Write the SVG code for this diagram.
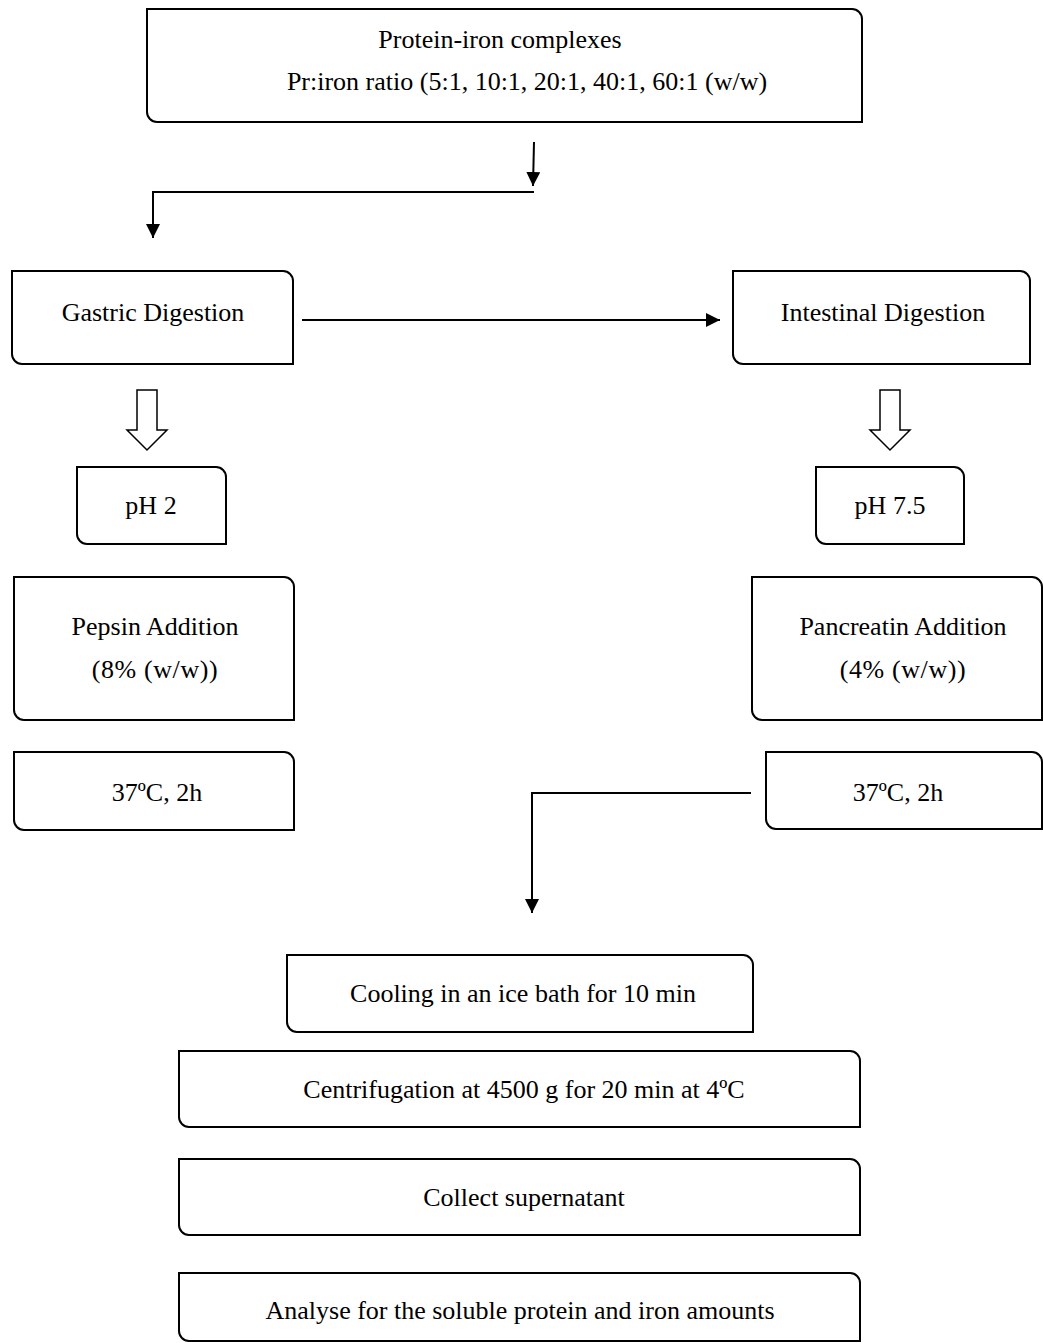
<svg xmlns="http://www.w3.org/2000/svg" width="1043" height="1343" viewBox="0 0 1043 1343">
<defs>
<style>
.box{fill:#fff;stroke:#000;stroke-width:2}
.t{font-family:"Liberation Serif","Times New Roman",serif;font-size:26px;fill:#000;text-anchor:middle}
.ln{fill:none;stroke:#000;stroke-width:2}
.hollow{fill:#fff;stroke:#000;stroke-width:1.5}
</style>
<marker id="ah2" viewBox="0 0 10 10" refX="10" refY="5" markerWidth="14" markerHeight="14" markerUnits="userSpaceOnUse" orient="auto">
<path d="M0,0 L10,5 L0,10 Z" fill="#000"/>
</marker>
</defs>

<g id="n-complexes">
<path class="box" d="M147,9 H852 A10,10 0 0 1 862,19 V122 H157 A10,10 0 0 1 147,112 Z"/>
<text class="t" x="500" y="48">Protein-iron complexes</text>
<text class="t" x="527" y="90">Pr:iron ratio (5:1, 10:1, 20:1, 40:1, 60:1 (w/w)</text>
</g>

<g id="n-gastric">
<path class="box" d="M12,271 H283 A10,10 0 0 1 293,281 V364 H22 A10,10 0 0 1 12,354 Z"/>
<text class="t" x="153" y="321">Gastric Digestion</text>
</g>

<g id="n-intestinal">
<path class="box" d="M733,271 H1020 A10,10 0 0 1 1030,281 V364 H743 A10,10 0 0 1 733,354 Z"/>
<text class="t" x="883" y="321">Intestinal Digestion</text>
</g>

<g id="n-ph2">
<path class="box" d="M77,467 H216 A10,10 0 0 1 226,477 V544 H87 A10,10 0 0 1 77,534 Z"/>
<text class="t" x="151" y="514">pH 2</text>
</g>

<g id="n-ph75">
<path class="box" d="M816,467 H954 A10,10 0 0 1 964,477 V544 H826 A10,10 0 0 1 816,534 Z"/>
<text class="t" x="890" y="514">pH 7.5</text>
</g>

<g id="n-pepsin">
<path class="box" d="M14,577 H284 A10,10 0 0 1 294,587 V720 H24 A10,10 0 0 1 14,710 Z"/>
<text class="t" x="155" y="635">Pepsin Addition</text>
<text class="t" x="155" y="678" letter-spacing="0.6">(8% (w/w))</text>
</g>

<g id="n-pancreatin">
<path class="box" d="M752,577 H1032 A10,10 0 0 1 1042,587 V720 H762 A10,10 0 0 1 752,710 Z"/>
<text class="t" x="903" y="635">Pancreatin Addition</text>
<text class="t" x="903" y="678" letter-spacing="0.6">(4% (w/w))</text>
</g>

<g id="n-incub-left">
<path class="box" d="M14,752 H284 A10,10 0 0 1 294,762 V830 H24 A10,10 0 0 1 14,820 Z"/>
<text class="t" x="157" y="801">37ºC, 2h</text>
</g>

<g id="n-incub-right">
<path class="box" d="M766,752 H1032 A10,10 0 0 1 1042,762 V829 H776 A10,10 0 0 1 766,819 Z"/>
<text class="t" x="898" y="801">37ºC, 2h</text>
</g>

<g id="n-cooling">
<path class="box" d="M287,955 H743 A10,10 0 0 1 753,965 V1032 H297 A10,10 0 0 1 287,1022 Z"/>
<text class="t" x="523" y="1002">Cooling in an ice bath for 10 min</text>
</g>

<g id="n-centrifugation">
<path class="box" d="M179,1051 H850 A10,10 0 0 1 860,1061 V1127 H189 A10,10 0 0 1 179,1117 Z"/>
<text class="t" x="524" y="1098">Centrifugation at 4500 g for 20 min at 4ºC</text>
</g>

<g id="n-collect">
<path class="box" d="M179,1159 H850 A10,10 0 0 1 860,1169 V1235 H189 A10,10 0 0 1 179,1225 Z"/>
<text class="t" x="524" y="1206">Collect supernatant</text>
</g>

<g id="n-analyse">
<path class="box" d="M179,1273 H850 A10,10 0 0 1 860,1283 V1341 H189 A10,10 0 0 1 179,1331 Z"/>
<text class="t" x="520" y="1319">Analyse for the soluble protein and iron amounts</text>
</g>

<g id="connectors">
<line class="ln" x1="534" y1="142" x2="533" y2="186" marker-end="url(#ah2)"/>
<polyline class="ln" points="534,192 153,192 153,238" marker-end="url(#ah2)"/>
<line class="ln" x1="302" y1="320" x2="720" y2="320" marker-end="url(#ah2)"/>
<polygon class="hollow" points="137,390 157,390 157,430 167,430 147,450 127,430 137,430"/>
<polygon class="hollow" points="880,390 900,390 900,430 910,430 890,450 870,430 880,430"/>
<polyline class="ln" points="751,793 532,793 532,913" marker-end="url(#ah2)"/>
</g>
</svg>
